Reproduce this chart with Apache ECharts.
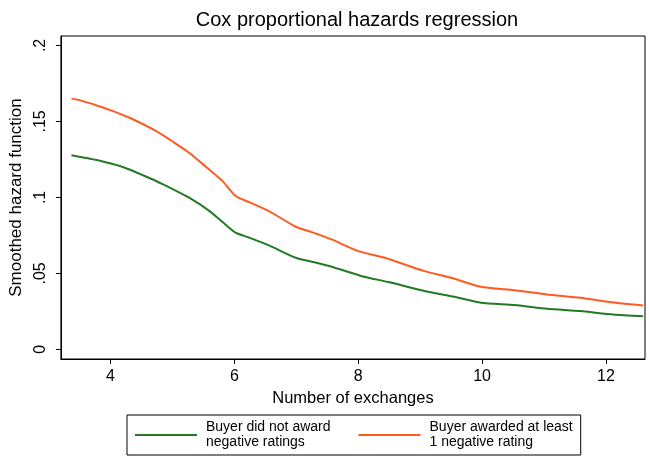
<!DOCTYPE html>
<html>
<head>
<meta charset="utf-8">
<script src="https://cdn.jsdelivr.net/npm/echarts@6/dist/echarts.min.js"></script>
<style>html,body{margin:0;padding:0;background:#fff}#c{width:649px;height:458px}</style>
</head>
<body>
<div id="c"></div>
<script>
const titleText = 'Cox proportional hazards regression';
const xName = 'Number of exchanges';
const yName = 'Smoothed hazard function';
const xTicks = [4, 6, 8, 10, 12];
const yTicks = [0, 0.05, 0.1, 0.15, 0.2];
const seriesNames = ['Buyer did not award\nnegative ratings', 'Buyer awarded at least\n1 negative rating'];

const xGreen = [3.37, 3.78, 4.2, 4.58, 4.85, 5.27, 5.6, 5.81, 6.02, 6.24, 6.56, 6.99, 7.25, 7.57, 8.06, 8.49, 9.07, 9.55, 9.98, 10.52, 11.05, 11.59, 12.12, 12.6];
const yGreen = [0.1278, 0.1246, 0.1200, 0.1136, 0.1086, 0.0998, 0.0910, 0.0838, 0.0768, 0.0735, 0.0684, 0.0603, 0.0577, 0.0544, 0.0482, 0.0443, 0.0384, 0.0346, 0.0307, 0.0292, 0.0268, 0.0252, 0.0230, 0.0219];

const xOrange = [3.37, 3.5, 3.78, 4.04, 4.31, 4.74, 5.01, 5.27, 5.54, 5.81, 6.02, 6.24, 6.56, 6.99, 7.25, 7.57, 8.0, 8.43, 9.07, 9.5, 9.98, 10.52, 11.05, 11.59, 12.02, 12.6];
const yOrange = [0.1650, 0.1640, 0.1605, 0.1568, 0.1524, 0.1436, 0.1366, 0.1294, 0.1202, 0.1107, 0.1009, 0.0969, 0.0910, 0.0807, 0.0772, 0.0724, 0.0647, 0.0603, 0.0515, 0.0471, 0.0412, 0.0390, 0.0362, 0.0340, 0.0314, 0.0289];

const pair = (xs, ys) => xs.map((x, i) => [x, ys[i]]);
const FONT = 'Liberation Sans, Arial, sans-serif';

const chart = echarts.init(document.getElementById('c'), null, {renderer: 'canvas'});
chart.setOption({
  backgroundColor: '#fff',
  animation: false,
  textStyle: {fontFamily: FONT, color: '#000'},
  title: {
    text: titleText, left: 352, top: 5, textAlign: 'center',
    textStyle: {fontFamily: FONT, fontSize: 20, fontWeight: 'normal', color: '#000'}
  },
  grid: {left: 57, top: 36, width: 588, height: 323, show: true, borderColor: '#000', borderWidth: 1, containLabel: false},
  legend: {
    left: 127, top: 415, orient: 'horizontal',
    itemWidth: 62, itemHeight: 2, itemGap: 28, icon: 'rect',
    padding: [5, 8, 5, 8],
    borderColor: '#000', borderWidth: 1, borderRadius: 0,
    textStyle: {fontFamily: FONT, fontSize: 14, color: '#000', lineHeight: 15, padding: [0, 0, 0, 4]},
    data: seriesNames
  },
  xAxis: {
    type: 'value', min: 3.2, max: 12.63,
    name: xName, nameLocation: 'middle', nameGap: 30,
    nameTextStyle: {fontFamily: FONT, fontSize: 16.5, color: '#000'},
    axisLine: {show: true, onZero: false, lineStyle: {color: '#000', width: 1}},
    axisTick: {show: true, length: 5, customValues: xTicks, lineStyle: {color: '#000'}},
    axisLabel: {customValues: xTicks, margin: 10, fontFamily: FONT, fontSize: 16, color: '#000'},
    splitLine: {show: false}
  },
  yAxis: {
    type: 'value', min: -0.0063, max: 0.2062,
    name: yName, nameLocation: 'middle', nameGap: 31, nameRotate: 90,
    nameTextStyle: {fontFamily: FONT, fontSize: 17, color: '#000'},
    axisLine: {show: true, onZero: false, lineStyle: {color: '#000', width: 1}},
    axisTick: {show: true, length: 5, customValues: yTicks, lineStyle: {color: '#000'}},
    axisLabel: {
      customValues: yTicks, rotate: 90, margin: 12, fontFamily: FONT, fontSize: 16, color: '#000',
      formatter: v => v === 0 ? '0' : String(+v.toFixed(2)).replace(/^0\./, '.')
    },
    splitLine: {show: false}
  },
  series: [
    {name: seriesNames[0], type: 'line', data: pair(xGreen, yGreen), showSymbol: false, smooth: 0.2,
     lineStyle: {color: '#237a23', width: 2}, itemStyle: {color: '#237a23'}},
    {name: seriesNames[1], type: 'line', data: pair(xOrange, yOrange), showSymbol: false, smooth: 0.2,
     lineStyle: {color: '#ff5a22', width: 2}, itemStyle: {color: '#ff5a22'}}
  ]
});
</script>
</body>
</html>
